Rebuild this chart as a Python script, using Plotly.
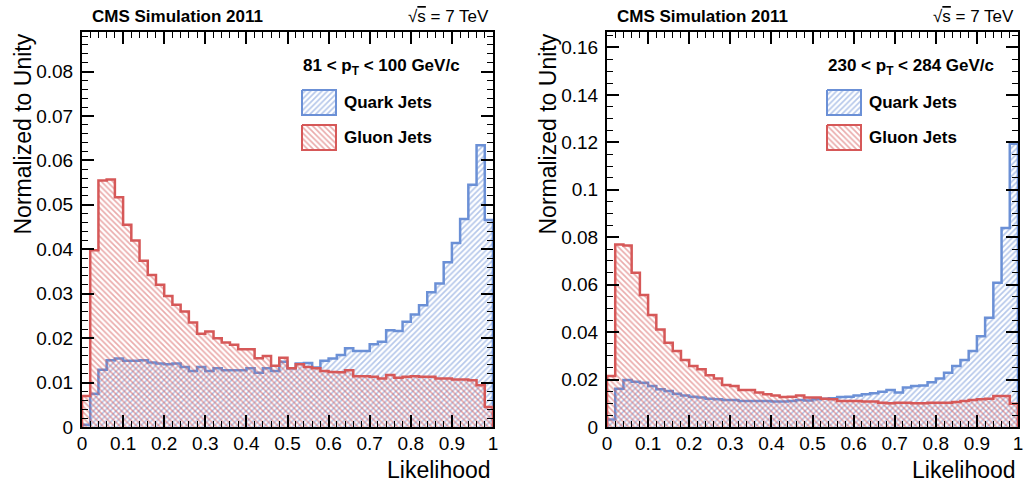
import numpy as np
import plotly.graph_objects as go

# ---------------- data ----------------
N_BINS = 50
X_LOW, X_HIGH = 0.0, 1.0
bin_edges = [round(X_LOW + i * (X_HIGH - X_LOW) / N_BINS, 4) for i in range(N_BINS + 1)]
x_ticks = [0, 0.1, 0.2, 0.3, 0.4, 0.5, 0.6, 0.7, 0.8, 0.9, 1]

# Left panel: 81 < pT < 100 GeV/c
quark_low = [0.0005, 0.0075, 0.0129, 0.0150, 0.0154, 0.0149, 0.0149, 0.0150, 0.0145, 0.0143,
             0.0141, 0.0143, 0.0135, 0.0126, 0.0135, 0.0126, 0.0132, 0.0128, 0.0128, 0.0128,
             0.0132, 0.0122, 0.0132, 0.0126, 0.0147, 0.0132, 0.0143, 0.0144, 0.0134, 0.0149,
             0.0154, 0.0162, 0.0177, 0.0171, 0.0171, 0.0186, 0.0192, 0.0218, 0.0216, 0.0237,
             0.0253, 0.0274, 0.0303, 0.0323, 0.0371, 0.0414, 0.0468, 0.0545, 0.0634, 0.0466]
gluon_low = [0.0070, 0.0398, 0.0555, 0.0557, 0.0517, 0.0455, 0.0420, 0.0374, 0.0342, 0.0320,
             0.0295, 0.0275, 0.0260, 0.0235, 0.0210, 0.0215, 0.0200, 0.0190, 0.0185, 0.0175,
             0.0175, 0.0155, 0.0160, 0.0138, 0.0156, 0.0132, 0.0141, 0.0135, 0.0132, 0.0126,
             0.0124, 0.0123, 0.0128, 0.0114, 0.0114, 0.0113, 0.0109, 0.0117, 0.0111, 0.0113,
             0.0114, 0.0113, 0.0113, 0.0109, 0.0109, 0.0107, 0.0107, 0.0105, 0.0094, 0.0045]

# Right panel: 230 < pT < 284 GeV/c
quark_high = [0.0032, 0.0161, 0.0198, 0.0191, 0.0187, 0.0173, 0.0159, 0.0152, 0.0140, 0.0133,
              0.0128, 0.0124, 0.0119, 0.0117, 0.0114, 0.0114, 0.0110, 0.0110, 0.0110, 0.0110,
              0.0107, 0.0107, 0.0110, 0.0114, 0.0112, 0.0117, 0.0119, 0.0121, 0.0126, 0.0128,
              0.0133, 0.0138, 0.0142, 0.0149, 0.0156, 0.0145, 0.0166, 0.0173, 0.0175, 0.0189,
              0.0204, 0.0229, 0.0257, 0.0282, 0.0320, 0.0383, 0.0460, 0.0608, 0.0839, 0.1194]
gluon_high = [0.0215, 0.0769, 0.0765, 0.0650, 0.0556, 0.0472, 0.0411, 0.0355, 0.0320, 0.0282,
              0.0257, 0.0243, 0.0218, 0.0204, 0.0177, 0.0173, 0.0156, 0.0156, 0.0145, 0.0138,
              0.0133, 0.0126, 0.0128, 0.0133, 0.0124, 0.0124, 0.0119, 0.0117, 0.0110, 0.0110,
              0.0110, 0.0107, 0.0107, 0.0102, 0.0100, 0.0102, 0.0102, 0.0100, 0.0100, 0.0102,
              0.0102, 0.0102, 0.0105, 0.0110, 0.0114, 0.0117, 0.0119, 0.0131, 0.0131, 0.0098]

panel_labels = ["81 &lt; p<sub>T</sub> &lt; 100 GeV/c", "230 &lt; p<sub>T</sub> &lt; 284 GeV/c"]
series_names = ["Quark Jets", "Gluon Jets"]
y_max = [0.0889, 0.1665]
y_dtick = [0.01, 0.02]
y_minor = [0.002, 0.005]

# ---------------- style ----------------
W, H = 1025, 489
BLUE = "#6b90d6"
RED = "#d65858"
FONT = "Liberation Sans, Arial, Helvetica, sans-serif"
hatch = {"Quark Jets": "/", "Gluon Jets": "\\"}
colors = {"Quark Jets": BLUE, "Gluon Jets": RED}

# plot areas in pixels (left, right, top, bottom)
areas = [(82, 493, 32, 427), (607, 1018, 32, 427)]


def px(x):
    return x / W


def py(y):
    return 1 - y / H


def pattern(name):
    return dict(shape=hatch[name], fgcolor=colors[name], bgcolor="rgba(0,0,0,0)",
                size=4, solidity=0.42, fillmode="overlay")


fig = go.Figure()


def step_trace(vals, name, xa, ya):
    xs = [bin_edges[0]] + bin_edges[:-1] + [bin_edges[-1], bin_edges[-1]]
    ys = [0] + list(vals) + [vals[-1], 0]
    return go.Scatter(
        x=xs, y=ys, mode="lines", line=dict(shape="hv", color=colors[name], width=2.5),
        fill="tozeroy", fillcolor="rgba(0,0,0,0)", fillpattern=pattern(name),
        xaxis=xa, yaxis=ya, showlegend=False, name=name, hoverinfo="skip")


panels = [(quark_low, gluon_low), (quark_high, gluon_high)]
for i, (q, g) in enumerate(panels):
    xa = "x" if i == 0 else "x2"
    ya = "y" if i == 0 else "y2"
    fig.add_trace(step_trace(q, "Quark Jets", xa, ya))
    fig.add_trace(step_trace(g, "Gluon Jets", xa, ya))

# legend swatches on a pixel-coordinate overlay axis
for i, (l, r, t, b) in enumerate(areas):
    bx0 = l + 220
    bx1 = bx0 + 34
    for j, name in enumerate(series_names):
        y0 = 90 + j * 35
        y1 = y0 + 25
        fig.add_trace(go.Scatter(
            x=[bx0, bx1, bx1, bx0, bx0], y=[y0, y0, y1, y1, y0], mode="lines",
            line=dict(color=colors[name], width=2), fill="toself", fillcolor="rgba(0,0,0,0)",
            fillpattern=pattern(name),
            xaxis="x3", yaxis="y3", showlegend=False, hoverinfo="skip"))

axis_common = dict(
    showline=True, linecolor="black", linewidth=2, mirror="ticks",
    ticks="inside", ticklen=12, tickwidth=1.5, tickcolor="black",
    showgrid=False, zeroline=False, automargin=False,
    tickfont=dict(family=FONT, size=19, color="black"),
)

layout = dict(
    template="none",
    width=W, height=H, margin=dict(l=0, r=0, t=0, b=0, pad=0), autosize=False,
    paper_bgcolor="white", plot_bgcolor="rgba(0,0,0,0)",
    showlegend=False,
    xaxis3=dict(domain=[0, 1], range=[0, W], visible=False, anchor="y3", fixedrange=True,
                automargin=False),
    yaxis3=dict(domain=[0, 1], range=[H, 0], visible=False, anchor="x3", fixedrange=True,
                automargin=False),
)
for i, (l, r, t, b) in enumerate(areas):
    xk = "xaxis" if i == 0 else "xaxis2"
    yk = "yaxis" if i == 0 else "yaxis2"
    layout[xk] = dict(axis_common, domain=[px(l), px(r)], range=[X_LOW, X_HIGH],
                      tickmode="array", tickvals=x_ticks, ticklabelstandoff=-2,
                      minor=dict(dtick=0.02, tick0=0, ticks="inside", ticklen=6, tickwidth=1,
                                 tickcolor="black"),
                      anchor="y" if i == 0 else "y2")
    layout[yk] = dict(axis_common, domain=[py(b), py(t)], range=[0, y_max[i]],
                      dtick=y_dtick[i], tick0=0, ticklabelstandoff=3,
                      minor=dict(dtick=y_minor[i], tick0=0, ticks="inside", ticklen=6, tickwidth=1,
                                 tickcolor="black"),
                      anchor="x" if i == 0 else "x2")
fig.update_layout(**layout)

annos = []
for i, (l, r, t, b) in enumerate(areas):
    annos += [
        dict(text="<b>CMS Simulation 2011</b>", x=px(l + 8), y=py(17), xanchor="left", yanchor="middle",
             font=dict(family=FONT, size=17, color="black")),
        dict(text="√<span style='text-decoration:overline'>s</span> = 7 TeV", x=px(r - 2), y=py(17),
             xanchor="right", yanchor="middle", font=dict(family=FONT, size=17, color="black")),
        dict(text="<b>" + panel_labels[i] + "</b>", x=px(l + 219), y=py(67), xanchor="left",
             yanchor="middle", font=dict(family=FONT, size=17, color="black")),
        dict(text="<b>" + series_names[0] + "</b>", x=px(l + 260), y=py(103), xanchor="left",
             yanchor="middle", font=dict(family=FONT, size=17, color="black")),
        dict(text="<b>" + series_names[1] + "</b>", x=px(l + 260), y=py(138), xanchor="left",
             yanchor="middle", font=dict(family=FONT, size=17, color="black")),
        dict(text="Normalized to Unity", textangle=-90, x=px(l - 60), y=py(t), xanchor="center",
             yanchor="top", font=dict(family=FONT, size=23, color="black")),
        dict(text="Likelihood", x=px(r), y=py(470), xanchor="right", yanchor="middle",
             font=dict(family=FONT, size=23, color="black")),
    ]
for a in annos:
    a.update(xref="paper", yref="paper", showarrow=False)
fig.update_layout(annotations=annos)

fig.write_html("out.html")
